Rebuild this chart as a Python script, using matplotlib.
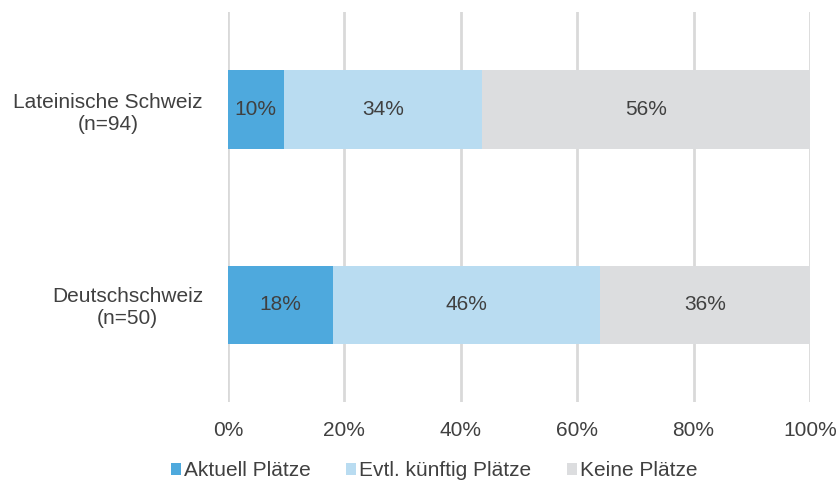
import matplotlib.pyplot as plt
import numpy as np

plt.rcParams['font.family'] = ['Liberation Sans', 'DejaVu Sans']

regions = ['Deutschschweiz\n(n=50)', 'Lateinische Schweiz\n(n=94)']
aktuell = np.array([18.0, 9.57])
kuenftig = np.array([46.0, 34.04])
keine = np.array([36.0, 56.38])
series = ['Aktuell Plätze', 'Evtl. künftig Plätze', 'Keine Plätze']
colors = ['#4EA9DD', '#B9DCF1', '#DCDDDF']
txt = '#404040'
fs = 15

fig = plt.figure(figsize=(8.4, 4.83), dpi=100)
ax = fig.add_axes([228/840, 1 - 402/483, 582/840, 390/483])

y = np.arange(len(regions))
left = np.zeros(len(regions))
for vals, name, c in zip([aktuell, kuenftig, keine], series, colors):
    bars = ax.barh(y, vals, left=left, height=0.4, color=c, label=name, zorder=3)
    for b, v in zip(bars, vals):
        ax.text(b.get_x() + b.get_width() / 2, b.get_y() + b.get_height() / 2,
                f'{v:.0f}%', ha='center', va='center', fontsize=fs, color=txt, zorder=4)
    left += vals

ax.set_xlim(0, 100)
ax.set_ylim(-0.5, 1.5)
ax.set_xticks(np.arange(0, 101, 20))
ax.set_xticklabels([f'{t}%' for t in range(0, 101, 20)])
ax.set_yticks(y)
ax.set_yticklabels(regions, multialignment='center')
ax.tick_params(axis='both', length=0, labelsize=fs, labelcolor=txt)
ax.tick_params(axis='y', pad=18)
ax.tick_params(axis='x', pad=14)
ax.grid(axis='x', color='#D9D9D9', linewidth=2, zorder=0)
for s in ax.spines.values():
    s.set_visible(False)

ax.legend(loc='center', bbox_to_anchor=(0.354, -0.176), ncol=3, frameon=False,
          fontsize=fs, labelcolor=txt, handlelength=0.48, handleheight=0.48,
          handletextpad=0.15, columnspacing=1.7, borderpad=0)

fig.savefig('out.png', dpi=100)
